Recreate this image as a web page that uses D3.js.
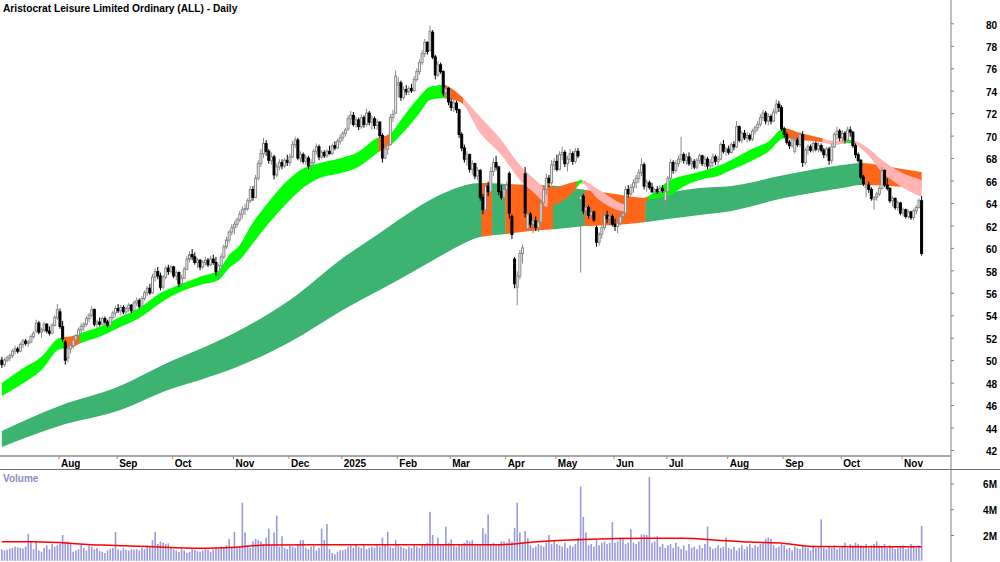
<!DOCTYPE html>
<html>
<head>
<meta charset="utf-8">
<script src="https://cdn.jsdelivr.net/npm/d3@7"></script>
<style>
  html, body { margin: 0; padding: 0; background: #fff; }
  svg { display: block; }
  text { font-family: "Liberation Sans", Arial, sans-serif; font-weight: bold; }
</style>
</head>
<body>
<div id="chart"></div>
<script>
const title = "Aristocrat Leisure Limited Ordinary (ALL) - Daily";

// month ticks: label + bar index of first trading day
const monthLabels = ["Aug", "Sep", "Oct", "Nov", "Dec", "2025", "Feb", "Mar", "Apr", "May", "Jun", "Jul", "Aug", "Sep", "Oct", "Nov"];
const monthIdx = [22, 44, 65, 88, 109, 129, 150, 170, 191, 210, 232, 252, 275, 296, 318, 341];

const priceTicks = [42, 44, 46, 48, 50, 52, 54, 56, 58, 60, 62, 64, 66, 68, 70, 72, 74, 76, 78, 80];
const volTicks = [2, 4, 6];
const volTickLabels = ["2M", "4M", "6M"];

// daily candles [open, high, low, close], Jul 2024 -> Nov 2025
const candles = [
  // Jul 2024
  [50.0,50.3,49.3,49.6],[49.6,50.2,49.4,50.0],[50.0,50.4,49.8,50.2],[50.2,50.6,49.9,50.4],[50.4,51.0,50.2,50.8],
  [50.8,51.3,50.5,51.0],[51.0,51.2,50.6,50.8],[50.8,51.6,50.7,51.4],[51.4,51.9,51.1,51.7],[51.7,51.9,51.3,51.5],
  [51.5,51.8,51.2,51.6],[51.6,52.3,51.5,52.1],[52.1,52.6,51.9,52.4],[52.6,53.6,52.4,53.3],[53.3,53.5,52.3,52.5],
  [52.5,52.9,52.0,52.7],[52.7,53.4,52.5,53.2],[53.2,53.3,52.4,52.6],[52.6,53.0,52.2,52.4],[52.4,53.3,52.3,53.1],
  [53.1,54.0,53.0,53.8],[53.8,55.0,53.6,54.5],
  // Aug
  [54.3,54.6,52.8,53.0],[53.0,53.5,51.6,51.9],[51.6,51.8,49.6,50.0],[50.2,51.2,49.8,51.0],[51.0,51.6,50.6,51.3],
  [51.3,52.0,51.0,51.8],[51.8,52.3,51.5,52.2],[52.2,52.9,52.0,52.7],[52.7,53.3,52.4,53.0],[53.0,53.4,52.6,53.2],
  [53.2,53.9,53.0,53.7],[53.7,54.2,53.4,54.0],[54.0,54.8,53.8,54.5],[54.5,54.6,53.0,53.2],[53.2,53.6,52.8,53.4],
  [53.4,53.8,53.0,53.2],[53.2,53.9,53.1,53.7],[53.7,53.9,53.2,53.4],[53.4,53.6,52.9,53.1],[53.1,53.9,53.0,53.8],
  [53.8,54.4,53.6,54.2],[54.2,54.8,53.9,54.6],
  // Sep
  [54.6,55.0,54.2,54.4],[54.4,54.9,54.0,54.7],[54.7,54.9,54.1,54.3],[54.3,54.8,54.0,54.6],[54.6,55.1,54.3,54.9],
  [54.9,55.0,54.2,54.4],[54.4,55.3,54.3,55.1],[55.1,55.6,54.8,55.3],[55.3,55.5,54.6,54.8],[54.8,55.7,54.7,55.5],
  [55.5,56.2,55.3,56.0],[56.0,56.6,55.7,56.4],[56.4,56.8,55.8,56.0],[56.0,57.7,55.9,57.4],[57.4,58.2,57.0,57.9],
  [57.9,58.3,57.2,57.5],[57.5,57.8,56.2,56.5],[56.5,57.6,56.3,57.4],[57.4,58.4,57.2,58.2],[58.2,58.5,57.6,57.9],
  [57.9,58.5,57.7,58.3],
  // Oct
  [58.3,58.4,57.3,57.5],[57.5,58.0,57.1,57.8],[57.8,57.9,56.5,56.8],[56.8,57.6,56.5,57.3],[57.3,58.3,57.2,58.1],
  [58.1,59.3,58.0,59.0],[59.0,59.7,58.7,59.4],[59.4,59.9,58.9,59.2],[59.2,59.6,58.5,58.7],[58.7,59.1,58.2,58.9],
  [58.9,59.0,58.0,58.3],[58.3,58.9,58.1,58.7],[58.7,59.2,58.4,58.9],[58.9,59.1,58.3,58.5],[58.5,59.3,58.4,59.0],
  [59.0,59.4,58.5,58.7],[58.7,59.2,57.5,57.9],[57.9,58.6,57.2,58.4],[58.4,59.5,58.3,59.2],[59.2,60.3,59.0,60.1],
  [60.1,61.0,59.9,60.7],[60.7,61.6,60.4,61.4],[61.4,62.1,61.1,61.8],
  // Nov
  [61.8,62.4,61.2,62.1],[62.1,62.7,61.8,62.5],[62.5,63.3,62.3,63.0],[63.0,63.7,62.6,63.4],[63.4,63.9,62.9,63.5],
  [63.5,64.4,63.3,64.2],[64.2,65.5,64.0,65.2],[65.2,65.5,64.2,64.5],[64.5,66.5,64.4,66.2],[66.2,67.8,66.0,67.5],
  [67.5,68.8,67.2,68.4],[68.4,69.8,68.0,69.3],[69.3,69.6,68.2,68.6],[68.6,68.8,67.5,67.8],[67.8,68.5,67.4,68.1],
  [68.1,68.3,66.1,66.5],[66.5,67.5,66.3,67.2],[67.2,67.9,66.9,67.6],[67.6,67.9,67.0,67.3],[67.3,68.0,67.1,67.8],
  [67.8,68.3,67.3,67.6],
  // Dec
  [67.6,68.4,67.3,68.1],[68.1,69.5,68.0,69.2],[69.2,69.9,68.9,69.6],[69.6,69.8,67.8,68.0],[68.0,68.6,67.6,68.3],
  [68.3,68.5,67.5,67.7],[67.7,68.3,67.4,68.0],[68.0,68.2,67.0,67.3],[67.3,67.9,66.8,67.6],[67.6,68.8,67.4,68.6],
  [68.6,69.3,68.3,69.0],[69.0,69.2,67.8,68.1],[68.1,68.7,67.9,68.5],[68.5,68.7,68.0,68.2],[68.2,68.8,68.0,68.6],
  [68.6,69.1,68.3,68.4],[68.4,69.3,68.3,69.1],[69.1,69.5,68.7,68.9],[68.9,69.7,68.8,69.5],[69.5,70.1,69.2,69.8],
  // Jan 2025
  [69.8,70.4,69.5,70.2],[70.2,70.7,69.9,70.5],[70.6,71.8,70.4,71.5],[71.5,72.2,71.0,71.8],[71.8,72.1,70.8,71.0],
  [71.0,71.7,70.7,71.4],[71.4,71.6,70.5,70.8],[70.8,71.9,70.6,71.6],[71.6,71.8,70.7,71.0],[71.0,72.4,70.8,72.0],
  [72.0,72.2,70.9,71.2],[71.2,71.8,70.5,71.5],[71.5,71.7,70.6,70.9],[70.9,71.5,70.5,71.2],[71.2,71.3,69.8,70.0],
  [70.0,70.2,67.6,68.0],[68.0,69.1,67.9,68.8],[68.8,69.4,68.3,69.1],[69.2,71.9,69.1,71.6],[71.6,72.3,71.2,71.9],
  [72.0,75.8,71.9,75.3],
  // Feb
  [74.5,75.2,73.4,74.7],[74.7,74.9,73.1,73.4],[73.4,74.4,73.2,74.1],[74.1,74.5,73.6,73.9],[73.9,74.4,73.6,74.2],
  [74.2,74.6,73.8,74.0],[74.0,75.3,73.9,75.0],[75.0,76.0,74.8,75.7],[75.7,76.8,75.4,76.5],[76.5,77.6,76.3,77.3],
  [77.3,78.6,77.0,78.3],[78.3,78.4,77.2,77.5],[77.6,79.8,77.5,79.3],[79.2,79.4,76.8,77.0],[77.0,77.2,75.0,75.4],
  [75.4,76.6,75.2,76.3],[76.3,76.5,75.5,75.7],[75.7,75.8,73.5,73.8],[73.8,74.5,73.3,74.2],[74.2,74.3,72.7,73.0],
  // Mar
  [73.0,73.3,72.2,72.5],[72.5,73.2,72.1,72.9],[72.9,73.1,72.0,72.3],[72.3,72.4,69.8,70.1],[70.1,70.3,68.6,68.9],
  [68.9,69.2,67.6,67.9],[67.9,68.6,67.3,68.3],[68.3,68.4,66.7,67.0],[67.0,67.8,66.5,67.5],[67.5,67.6,66.1,66.4],
  [66.4,67.2,66.0,66.9],[66.9,67.0,64.2,64.5],[64.5,64.8,63.0,63.4],[63.4,65.8,63.2,65.5],[65.5,65.9,64.6,65.0],
  [65.0,67.2,64.8,66.8],[66.8,68.0,66.4,67.6],[67.6,68.2,66.9,67.2],[67.2,67.3,64.7,65.0],[65.0,65.6,64.3,64.5],
  [64.5,65.5,64.0,65.2],
  // Apr
  [65.2,65.9,64.8,65.6],[66.6,66.8,62.6,63.1],[62.8,63.0,60.8,61.2],[59.0,59.2,56.4,56.8],[56.5,57.9,54.9,57.5],
  [57.5,59.8,57.2,59.5],[59.5,60.3,58.6,60.0],[66.6,67.2,62.7,63.1],[61.7,63.3,61.5,63.0],[63.0,63.2,61.8,62.1],
  [62.1,62.6,61.3,62.4],[62.4,62.8,61.5,61.8],[61.8,62.5,61.4,62.3],[62.3,64.3,62.2,64.0],[64.0,65.4,63.9,65.2],
  [65.2,66.6,64.7,66.2],[66.2,66.5,65.4,65.8],[65.8,67.8,65.6,67.4],[67.4,68.0,66.9,67.7],
  // May
  [67.7,68.3,66.8,67.0],[67.0,68.6,66.9,68.3],[68.3,69.0,67.8,68.5],[68.5,68.7,67.2,67.5],[67.5,68.2,66.8,67.9],
  [67.9,68.8,67.6,68.4],[68.4,68.6,67.4,67.7],[67.7,68.9,67.5,68.6],[68.6,68.9,68.0,68.2],[64.3,65.2,57.8,64.6],
  [64.6,64.8,63.0,63.3],[63.3,64.0,62.8,63.6],[63.6,63.8,62.6,62.9],[62.9,63.5,62.6,63.2],[63.2,63.3,62.3,62.5],
  [61.8,62.0,60.1,60.5],[60.5,61.4,60.2,61.2],[61.2,62.0,60.8,61.8],[61.8,63.2,61.6,62.9],[62.9,63.3,62.2,62.6],
  [62.6,63.1,62.0,62.8],[62.8,63.0,61.9,62.1],
  // Jun
  [62.1,62.6,61.5,61.9],[61.9,62.5,61.3,62.2],[62.2,63.0,62.0,62.8],[62.8,63.3,62.4,63.1],[63.1,65.5,63.0,65.2],
  [65.2,65.6,64.5,64.8],[64.8,65.7,64.6,65.4],[65.4,66.1,64.9,65.8],[65.8,66.5,65.3,66.2],[66.2,67.0,65.8,66.7],
  [66.7,68.0,66.4,67.4],[67.4,67.6,65.2,65.5],[65.5,66.1,65.0,65.8],[65.8,66.0,65.2,65.4],[65.4,65.8,64.9,65.0],
  [65.0,65.3,64.7,65.2],[65.2,65.5,64.8,65.0],[65.0,65.6,64.6,65.3],[65.3,65.6,64.9,65.1],[64.2,65.3,63.1,65.0],
  // Jul
  [65.0,66.4,64.9,66.2],[66.2,67.9,66.0,67.6],[67.6,67.8,66.6,66.9],[66.9,67.8,66.7,67.5],[67.5,68.2,67.2,67.9],
  [67.9,69.9,67.6,68.3],[68.3,68.5,67.5,67.8],[67.8,68.4,67.4,68.1],[68.1,68.5,67.3,67.5],[67.5,68.0,67.0,67.7],
  [67.7,67.9,67.0,67.2],[67.2,68.0,67.0,67.8],[67.8,68.4,67.5,68.2],[68.2,68.3,67.3,67.5],[67.5,68.2,67.2,67.9],
  [67.9,68.1,67.0,67.3],[67.3,67.9,66.9,67.6],[67.6,68.4,67.2,68.1],[68.1,68.3,67.4,67.7],[67.7,68.2,67.3,67.9],
  [67.9,69.4,67.8,69.2],[69.2,69.6,68.4,68.6],[68.6,69.0,68.2,68.8],
  // Aug
  [68.8,69.1,68.3,68.5],[68.5,69.4,68.4,69.2],[69.2,69.5,68.7,69.0],[69.0,71.3,68.9,70.8],[70.8,70.9,69.4,69.6],
  [69.6,70.4,69.3,70.2],[70.2,70.5,69.6,69.8],[69.8,70.3,69.4,70.0],[70.0,70.2,69.5,69.7],[69.7,70.6,69.5,70.4],
  [70.4,70.9,70.1,70.7],[70.7,71.3,70.4,71.0],[71.0,71.9,70.8,71.6],[71.6,72.3,71.3,72.0],[72.0,72.2,71.0,71.3],
  [71.3,72.0,70.9,71.7],[71.7,71.9,71.0,71.3],[71.3,72.4,71.2,72.1],[72.1,73.2,71.9,72.8],[72.8,73.1,72.1,72.5],
  [72.5,72.7,70.4,70.6],
  // Sep
  [70.6,70.8,69.8,70.1],[70.1,70.3,69.2,69.4],[69.4,69.6,68.8,69.1],[69.1,70.0,68.9,69.7],[68.6,69.9,68.4,69.6],
  [69.6,69.8,69.0,69.2],[69.2,70.3,69.0,70.1],[70.1,70.4,67.2,67.6],[67.6,68.9,67.4,68.7],[68.7,69.2,68.3,69.0],
  [69.0,69.2,68.5,68.7],[68.7,69.5,68.5,69.3],[69.3,69.5,68.6,68.8],[68.8,69.4,68.5,69.1],[69.1,69.3,68.5,68.7],
  [68.7,68.9,68.0,68.3],[68.3,69.0,68.1,68.8],[68.8,69.0,67.4,67.8],[67.8,69.3,67.5,69.0],[69.0,70.3,68.9,70.1],
  [70.1,70.8,69.6,70.4],[70.4,70.6,69.5,69.8],
  // Oct
  [69.8,70.5,69.4,70.2],[70.2,70.4,69.3,69.6],[69.6,70.8,69.5,70.5],[70.5,70.8,69.9,70.3],[70.3,70.4,68.9,69.1],
  [69.1,69.3,68.0,68.3],[68.3,68.5,67.6,67.8],[67.8,67.9,66.1,66.3],[66.3,66.5,65.5,65.7],[65.4,65.9,64.5,65.6],
  [65.6,65.9,64.9,65.2],[65.2,65.4,64.2,64.4],[64.3,64.6,63.4,64.5],[64.5,65.0,64.2,64.8],[64.8,65.5,64.6,65.3],
  [65.3,67.2,65.2,66.9],[66.9,67.0,65.4,65.6],[65.6,66.2,65.1,65.3],[65.3,65.4,64.0,64.2],[64.2,64.6,63.7,64.4],
  [64.4,64.5,63.4,63.6],[63.6,64.2,63.3,64.0],[64.0,64.1,62.9,63.1],
  // Nov
  [63.1,63.6,62.8,63.4],[63.4,63.5,62.6,62.8],[62.8,63.4,62.6,63.2],[63.2,63.3,62.5,62.7],[62.7,63.5,62.5,63.3],
  [63.3,63.8,63.0,63.6],[63.6,64.4,63.5,64.2],[64.2,64.6,59.3,59.5]
];

// daily volume, millions
const volumes = [
  0.9,0.8,0.85,0.95,1.0,1.1,1.05,1.0,0.95,1.1,2.1,1.55,0.9,1.55,0.8,0.7,1.0,1.2,0.9,1.3,1.1,1.2,
  1.3,2.0,1.5,1.5,1.4,0.7,0.8,0.9,1.3,1.0,0.8,1.2,1.1,0.9,1.0,0.75,0.7,0.6,0.8,0.9,1.0,2.23,
  0.9,0.8,1.0,0.85,0.8,0.9,0.85,0.9,0.8,1.0,0.9,1.2,1.1,1.6,2.25,1.3,1.5,1.4,1.3,1.35,1.0,
  0.9,0.8,0.7,0.9,0.8,0.6,0.7,0.9,0.85,0.75,0.7,0.8,0.9,0.85,0.7,0.9,1.0,0.95,1.1,1.0,1.2,1.7,1.05,
  2.25,1.0,1.1,4.5,2.2,1.2,1.0,1.5,1.7,1.6,1.5,1.3,1.8,2.5,1.2,2.2,3.5,1.1,1.9,1.0,0.9,
  1.2,1.1,1.0,1.3,1.6,1.6,1.0,0.9,1.1,1.2,0.8,1.0,2.5,1.6,2.85,0.9,0.6,0.5,0.7,0.8,
  0.8,0.9,1.1,1.2,1.0,1.3,1.1,1.0,1.2,0.9,1.0,1.1,1.0,1.2,1.1,1.8,1.3,2.25,1.1,1.0,1.6,
  1.2,1.1,1.0,0.9,1.1,1.0,1.2,1.1,1.0,1.2,1.3,1.4,3.8,2.0,1.2,1.8,1.3,1.2,2.65,1.4,
  1.65,1.2,1.1,1.3,1.2,1.4,1.6,1.5,1.6,1.2,1.3,1.2,2.55,2.1,3.6,1.3,1.4,1.2,1.3,1.5,1.5,
  1.4,1.7,1.5,2.55,4.5,2.2,1.4,2.3,1.75,1.2,1.0,1.1,1.3,1.2,1.1,1.4,2.0,1.3,1.6,
  1.3,1.2,1.1,1.4,1.0,1.2,1.1,1.3,1.8,5.75,3.4,2.2,1.2,1.3,1.1,1.6,1.2,1.4,1.5,1.3,1.4,3.0,
  1.4,1.5,1.8,1.8,1.3,1.4,2.45,1.4,1.3,1.5,2.05,2.05,2.0,6.5,1.4,1.5,1.9,1.1,1.3,1.0,
  1.2,1.3,1.0,1.4,1.1,0.9,1.2,0.8,1.3,1.0,1.1,0.9,1.2,1.0,1.3,2.65,1.1,0.9,1.0,1.2,1.0,1.1,1.8,
  1.0,0.9,1.1,0.8,1.0,1.2,0.9,1.1,1.3,1.0,1.2,1.1,1.3,1.4,1.7,1.8,1.7,1.2,1.0,1.1,1.3,
  1.2,0.9,1.0,0.8,1.1,1.0,0.9,1.2,1.1,1.0,0.8,1.2,1.0,1.1,3.2,1.0,0.9,1.1,1.0,1.2,0.9,1.0,
  1.1,1.4,1.0,1.3,1.2,1.4,1.3,1.2,1.1,1.3,1.0,1.2,1.3,1.5,1.2,1.1,1.3,1.0,1.2,1.1,0.9,1.0,1.1,
  1.2,0.9,1.0,1.3,1.1,1.0,1.2,2.7
];

// volume moving average, read at sample bars
const volMaIdx = [0, 12, 38, 55, 75, 88, 100, 126, 189, 201, 220, 245, 258, 271, 283, 296, 308, 348];
const volMaVal = [1.48, 1.47, 1.22, 1.1, 0.97, 1.05, 1.22, 1.25, 1.25, 1.45, 1.65, 1.74, 1.74, 1.6, 1.45, 1.35, 1.1, 1.08];

// short-term MA ribbon edges (sampled bars)
const shortIdx = [0, 7, 15, 22, 26, 30, 37, 45, 52, 60, 65, 75, 82, 86, 90, 94, 101, 109, 113, 120, 128, 135, 142, 145, 148, 151, 158, 162, 167, 171, 174, 181, 189, 196, 204, 206, 209, 215, 218, 219, 226, 237, 241, 244, 253, 259, 264, 272, 276, 283, 290, 296, 302, 310, 315, 321, 327, 333, 340, 348];
const shortTop = [47.97, 49.13, 50.31, 52.0, 52.1, 52.42, 52.98, 53.87, 54.65, 55.98, 56.52, 57.43, 58.03, 59.37, 60.26, 61.89, 64.11, 66.2, 66.94, 67.53, 67.98, 68.57, 69.79, 69.96, 70.41, 71.39, 73.46, 74.35, 74.51, 74.06, 73.46, 71.66, 69.61, 67.38, 65.6, 65.16, 65.33, 65.78, 65.96, 66.04, 65.16, 63.82, 64.27, 64.53, 66.05, 66.49, 66.79, 67.38, 67.83, 68.72, 69.46, 70.65, 70.23, 69.79, 69.52, 69.61, 69.0, 67.83, 66.76, 66.05];
const shortBot = [46.81, 47.79, 49.13, 51.0, 51.1, 51.53, 52.09, 52.98, 53.76, 55.09, 55.8, 56.7, 57.14, 58.21, 58.92, 60.11, 62.19, 64.27, 65.16, 66.2, 66.64, 67.23, 68.45, 68.9, 69.34, 70.05, 71.99, 73.17, 73.32, 73.17, 72.9, 70.23, 68.27, 66.05, 64.27, 63.64, 63.82, 64.71, 65.51, 65.78, 64.27, 63.2, 63.38, 64.18, 64.71, 65.6, 66.05, 66.49, 66.94, 67.68, 68.57, 69.76, 69.61, 69.43, 69.16, 69.34, 68.45, 66.76, 65.51, 64.53];

// long-term MA ribbon edges (sampled bars)
const longIdx = [0, 22, 44, 65, 75, 88, 109, 129, 143, 150, 162, 170, 181, 191, 200, 210, 221, 232, 244, 252, 264, 276, 296, 318, 325, 336, 348];
const longTop = [43.7, 45.95, 47.64, 50.02, 51.0, 52.42, 55.36, 59.1, 61.33, 62.48, 64.27, 65.16, 65.78, 65.69, 65.6, 65.51, 65.16, 64.8, 64.44, 64.89, 65.33, 65.51, 66.49, 67.38, 67.56, 67.2, 66.76];
const longBot = [42.27, 44.17, 45.5, 47.52, 48.24, 49.3, 51.62, 54.47, 56.25, 57.14, 58.74, 59.81, 60.97, 61.24, 61.51, 61.68, 61.95, 62.04, 62.31, 62.57, 62.93, 63.29, 64.44, 65.33, 65.6, 65.51, 65.33];

// ribbon colour state by bar range: g = bull, o = mixed, p = bear, t = long bull
const shortStates = [[0,23,"g"],[24,29,"o"],[30,142,"g"],[143,147,"o"],[148,167,"g"],[168,174,"o"],[175,206,"p"],[207,217,"o"],[218,219,"g"],[220,236,"p"],[237,244,"o"],[245,296,"g"],[297,310,"o"],[311,319,"p"],[320,322,"g"],[323,348,"p"]];
const longStates = [[0,181,"t"],[182,185,"o"],[186,190,"t"],[191,208,"o"],[209,220,"t"],[221,243,"o"],[244,325,"t"],[326,348,"o"]];

const stateColours = { g: "#00ff00", o: "#ff661a", p: "#ffb3b3", t: "#3cb371" };

const width = 1000, height = 562;
const axisX = 951;
const priceBottom = 456;

const svg = d3.select("#chart").append("svg")
  .attr("width", width)
  .attr("height", height);

const x = d3.scaleLinear().domain([0, candles.length - 1]).range([1.85, 921.6]);
const step = x(1) - x(0);
const y = d3.scaleLinear().domain([42, 80]).range([450, 23.3]);
const yVol = d3.scaleLinear().domain([0, 6]).range([560.8, 483.4]);

// panel clip
svg.append("clipPath").attr("id", "pricePanel")
  .append("rect").attr("x", 0).attr("y", 0).attr("width", axisX).attr("height", priceBottom);

function drawRibbon(idx, top, bot, states, name) {
  const pts = idx.map((d, k) => ({ i: d, t: top[k], b: bot[k] }));
  const area = d3.area()
    .x(d => x(d.i))
    .y0(d => y(d.b))
    .y1(d => y(d.t))
    .curve(d3.curveMonotoneX);
  const g = svg.append("g").attr("clip-path", "url(#pricePanel)");
  states.forEach((s, k) => {
    const id = name + k;
    const x0 = s[0] === 0 ? 0 : x(s[0]) - step / 2;
    const x1 = s[1] === candles.length - 1 ? x(s[1]) + 1 : x(s[1]) + step / 2 + 0.4;
    svg.append("clipPath").attr("id", id)
      .append("rect").attr("x", x0).attr("y", 0).attr("width", x1 - x0).attr("height", priceBottom);
    g.append("path")
      .datum(pts)
      .attr("d", area)
      .attr("fill", stateColours[s[2]])
      .attr("clip-path", `url(#${id})`);
  });
}

drawRibbon(longIdx, longTop, longBot, longStates, "lr");
drawRibbon(shortIdx, shortTop, shortBot, shortStates, "sr");

// candles
const up = d => d[3] >= d[0];
const cg = svg.append("g").attr("clip-path", "url(#pricePanel)");
cg.selectAll("line")
  .data(candles)
  .join("line")
  .attr("x1", (d, i) => x(i))
  .attr("x2", (d, i) => x(i))
  .attr("y1", d => y(d[1]))
  .attr("y2", d => y(d[2]))
  .attr("stroke", d => up(d) ? "#8a8a8a" : "#000")
  .attr("stroke-width", 1);
cg.selectAll("rect")
  .data(candles)
  .join("rect")
  .attr("x", (d, i) => x(i) - 1)
  .attr("width", 2)
  .attr("y", d => y(Math.max(d[0], d[3])))
  .attr("height", d => Math.max(0.8, Math.abs(y(d[0]) - y(d[3]))))
  .attr("fill", d => up(d) ? "#f4f4f4" : "#000")
  .attr("stroke", d => up(d) ? "#8a8a8a" : "#000")
  .attr("stroke-width", 1);

// title
svg.append("text")
  .attr("x", 3).attr("y", 12)
  .attr("font-size", 10.2)
  .attr("fill", "#000")
  .text(title);

// price axis
const ya = svg.append("g")
  .attr("transform", `translate(${axisX},0)`)
  .call(d3.axisRight(y).tickValues(priceTicks).tickSize(3));
ya.select(".domain").remove();
ya.selectAll(".tick line").attr("stroke", "#808080");
ya.selectAll(".tick text")
  .attr("x", 46).attr("y", 1.5)
  .attr("text-anchor", "end")
  .attr("fill", "#000")
  .attr("font-size", 10)
  .attr("font-family", null);

// axis frame
svg.append("line").attr("x1", axisX).attr("x2", axisX).attr("y1", 0).attr("y2", height)
  .attr("stroke", "#808080");
svg.append("line").attr("x1", 0).attr("x2", axisX).attr("y1", priceBottom).attr("y2", priceBottom)
  .attr("stroke", "#a8a8a8").attr("stroke-width", 2);
svg.append("line").attr("x1", 0).attr("x2", width).attr("y1", 469.5).attr("y2", 469.5)
  .attr("stroke", "#707070");

// month axis
const mg = svg.append("g");
mg.selectAll("line")
  .data(monthIdx)
  .join("line")
  .attr("x1", d => x(d) - 1).attr("x2", d => x(d) - 1)
  .attr("y1", priceBottom).attr("y2", priceBottom + 3)
  .attr("stroke", "#909090");
mg.selectAll("text")
  .data(monthIdx)
  .join("text")
  .attr("x", d => x(d) + 1)
  .attr("y", 466.5)
  .attr("font-size", 10)
  .attr("fill", "#000")
  .text((d, k) => monthLabels[k]);

// volume panel
svg.append("text")
  .attr("x", 3).attr("y", 481.5)
  .attr("font-size", 10)
  .attr("fill", "#8c8cc8")
  .text("Volume");

svg.append("g")
  .selectAll("rect")
  .data(volumes)
  .join("rect")
  .attr("x", (d, i) => x(i) - 0.8)
  .attr("width", 1.6)
  .attr("y", d => yVol(d))
  .attr("height", d => yVol(0) - yVol(d))
  .attr("fill", "#9a9ade");

const maLine = d3.line()
  .x(d => x(d[0]))
  .y(d => yVol(d[1]))
  .curve(d3.curveMonotoneX);
svg.append("path")
  .datum(volMaIdx.map((d, k) => [d, volMaVal[k]]))
  .attr("d", maLine)
  .attr("fill", "none")
  .attr("stroke", "#ff0000")
  .attr("stroke-width", 1.5);

const va = svg.append("g")
  .attr("transform", `translate(${axisX},0)`)
  .call(d3.axisRight(yVol).tickValues(volTicks).tickSize(3).tickFormat((d, k) => volTickLabels[k]));
va.select(".domain").remove();
va.selectAll(".tick line").attr("stroke", "#808080");
va.selectAll(".tick text")
  .attr("x", 46).attr("y", 1)
  .attr("text-anchor", "end")
  .attr("fill", "#000")
  .attr("font-size", 10)
  .attr("font-family", null);
</script>
</body>
</html>
